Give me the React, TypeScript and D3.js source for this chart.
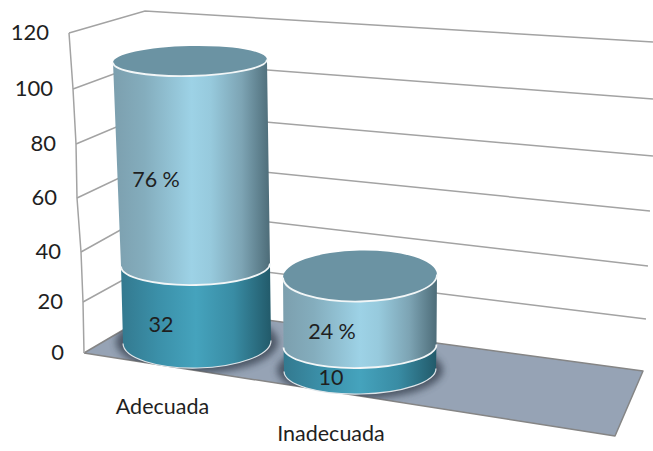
import React from "react";
import * as d3 from "d3";

// Chart values
const categories = ["Adecuada", "Inadecuada"];
const lowerValues = [32, 10];
const upperValues = [76, 24];
const upperLabels = ["76 %", "24 %"];
const axisTicks = [0, 20, 40, 60, 80, 100, 120];

// Where each axis tick lands on the three wall edges (the projection is not linear)
const frontEdge: [number, number][] = [[84, 353], [83, 302], [81, 252], [77, 198], [76, 144], [73, 89], [69, 33]];
const backEdge: [number, number][] = [[164, 306], [161, 259], [158, 209], [155, 161], [152, 112], [149, 61], [145, 11]];
const rightEdge: [number, number][] = [[643, 371], [646, 319], [648, 266], [650, 211], [653, 156], [653, 99], [653, 42]];
const floorFront: [number, number] = [615, 436];

const edgeScale = (pts: [number, number][], i: 0 | 1) =>
  d3.scaleLinear().domain(axisTicks).range(pts.map((p) => p[i]));

// Projected geometry of each cylinder at its stack levels: base, split, top
const cylinderFrames = [
  { cy: [342, 265, 61], cx: [197, 195.5, 190], rx: [74, 74.5, 77], ry: [26, 20, 15] },
  { cy: [370, 346, 276], cx: [360, 360, 360], rx: [76, 76.5, 77], ry: [24, 22, 25.5] },
];
const tilt = -1.2;

const labelPositions = [
  { upper: [156, 182], lower: [161, 327], cat: [162.5, 409] },
  { upper: [332, 334], lower: [331, 380], cat: [331, 436] },
];

const ring = (cx: number, cy: number, rx: number) => {
  const a = (tilt * Math.PI) / 180;
  return {
    lx: cx - rx * Math.cos(a),
    ly: cy - rx * Math.sin(a),
    rx: cx + rx * Math.cos(a),
    ry: cy + rx * Math.sin(a),
  };
};

type Level = { cx: number; cy: number; rx: number; ry: number };

const sidePath = (lo: Level, hi: Level) => {
  const a = ring(lo.cx, lo.cy, lo.rx);
  const b = ring(hi.cx, hi.cy, hi.rx);
  return `M${a.lx},${a.ly}A${lo.rx},${lo.ry} ${tilt} 0 0 ${a.rx},${a.ry}L${b.rx},${b.ry}A${hi.rx},${hi.ry} ${tilt} 0 1 ${b.lx},${b.ly}Z`;
};
const frontArc = (l: Level) => {
  const a = ring(l.cx, l.cy, l.rx);
  return `M${a.lx},${a.ly}A${l.rx},${l.ry} ${tilt} 0 0 ${a.rx},${a.ry}`;
};

const fontFamily = "Lato, Carlito, sans-serif";
const textColor = "#1f1f1f";
const gridColor = "#a3a3a3";
const tickSize = 22;
const labelSize = 21.5;

export default function App() {
  const line = d3.line();
  const fx = edgeScale(frontEdge, 0), fy = edgeScale(frontEdge, 1);
  const bx = edgeScale(backEdge, 0), by = edgeScale(backEdge, 1);
  const rx = edgeScale(rightEdge, 0), ry = edgeScale(rightEdge, 1);

  const floor = line([
    [fx(0), fy(0)],
    [bx(0), by(0)],
    [rx(0), ry(0)],
    floorFront,
    [fx(0), fy(0)],
  ])!;

  const cylinders = categories.map((c, i) => {
    const lo = lowerValues[i];
    const total = lo + upperValues[i];
    const f = cylinderFrames[i];
    const dom = [0, lo, total];
    const s = (range: number[]) => d3.scaleLinear().domain(dom).range(range);
    const at = (v: number): Level => ({
      cx: s(f.cx)(v),
      cy: s(f.cy)(v),
      rx: s(f.rx)(v),
      ry: s(f.ry)(v),
    });
    return { c, base: at(0), split: at(lo), top: at(total) };
  });

  const label = (x: number, y: number, text: string | number, size = labelSize) => (
    <text
      x={x}
      y={y}
      textAnchor="middle"
      dominantBaseline="middle"
      fontFamily={fontFamily}
      fontSize={size}
      fill={textColor}
    >
      {text}
    </text>
  );

  return (
    <svg
      width={653}
      height={451}
      style={{ position: "absolute", left: 0, top: 0, background: "#fff" }}
    >
      <defs>
        <linearGradient id="upperSide" x1="0" x2="1" y1="0" y2="0">
          <stop offset="0" stopColor="#7c9fae" />
          <stop offset="0.2" stopColor="#84adbd" />
          <stop offset="0.5" stopColor="#9dd2e6" />
          <stop offset="0.62" stopColor="#97cadd" />
          <stop offset="0.82" stopColor="#7da4b4" />
          <stop offset="1" stopColor="#4d6c78" />
        </linearGradient>
        <linearGradient id="lowerSide" x1="0" x2="1" y1="0" y2="0">
          <stop offset="0" stopColor="#33798f" />
          <stop offset="0.25" stopColor="#3b90a9" />
          <stop offset="0.5" stopColor="#45a3bd" />
          <stop offset="0.75" stopColor="#398ca4" />
          <stop offset="1" stopColor="#225a6a" />
        </linearGradient>
        <filter id="contactShadow" x="-20%" y="-30%" width="140%" height="160%">
          <feGaussianBlur stdDeviation="3.5" />
        </filter>
        <clipPath id="floorClip">
          <path d={floor} />
        </clipPath>
      </defs>

      {/* Floor */}
      <path d={floor} fill="#96a3b5" stroke="#858585" strokeWidth={1.5} strokeLinejoin="round" />

      {/* Gridlines running along the side wall and on across the back wall */}
      {axisTicks.filter((t) => t > 0).map((t) => (
        <path
          key={t}
          d={line([
            [fx(t), fy(t)],
            [bx(t), by(t)],
            [rx(t), ry(t)],
          ])!}
          fill="none"
          stroke={gridColor}
          strokeWidth={1.5}
        />
      ))}
      <path
        d={line(axisTicks.map((t) => [fx(t), fy(t)]))!}
        fill="none"
        stroke={gridColor}
        strokeWidth={1.5}
      />

      {/* Axis tick labels */}
      {axisTicks.map((t) => (
        <text
          key={t}
          x={fx(t) - 20}
          y={fy(t) + 1.5}
          textAnchor="end"
          dominantBaseline="middle"
          fontFamily={fontFamily}
          fontSize={tickSize}
          fill={textColor}
        >
          {t}
        </text>
      ))}

      {/* Shadows cast on the floor, kept inside it */}
      <g clipPath="url(#floorClip)">
        {cylinders.map(({ c, base }) => (
          <ellipse
            key={c}
            cx={base.cx}
            cy={base.cy}
            rx={base.rx + 7}
            ry={base.ry + 5}
            fill="#3a4552"
            opacity={0.8}
            filter="url(#contactShadow)"
          />
        ))}
      </g>

      {/* Cylinders */}
      {cylinders.map(({ c, base, split, top }, i) => (
        <g key={c}>
          <path d={sidePath(base, split)} fill="url(#lowerSide)" />
          <path d={sidePath(split, top)} fill="url(#upperSide)" />
          <ellipse
            cx={top.cx}
            cy={top.cy}
            rx={top.rx}
            ry={top.ry}
            transform={`rotate(${tilt} ${top.cx} ${top.cy})`}
            fill="#6b93a3"
          />
          <path d={frontArc(top)} fill="none" stroke="#f2f6f7" strokeWidth={1.8} />
          <path d={frontArc(split)} fill="none" stroke="#f2f6f7" strokeWidth={1.8} />
          <path d={frontArc(base)} fill="none" stroke="#dfe6ea" strokeWidth={1.2} />
          {label(labelPositions[i].upper[0], labelPositions[i].upper[1], upperLabels[i])}
          {label(labelPositions[i].lower[0], labelPositions[i].lower[1], lowerValues[i])}
          {label(labelPositions[i].cat[0], labelPositions[i].cat[1], c)}
        </g>
      ))}
    </svg>
  );
}
